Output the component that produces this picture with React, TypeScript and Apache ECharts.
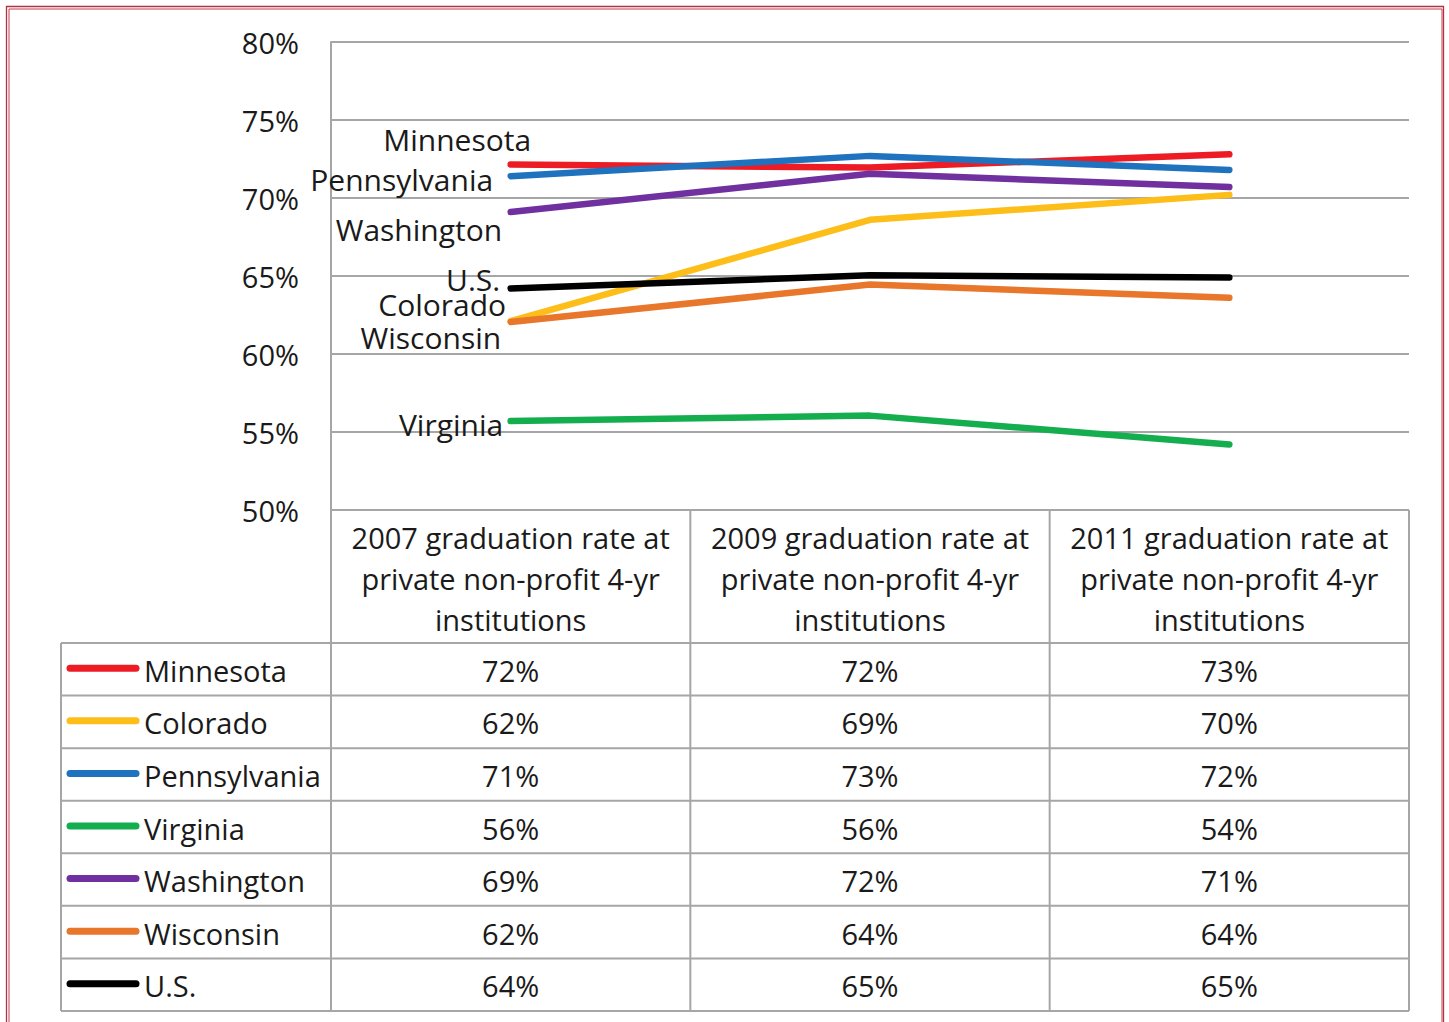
import React, { useEffect, useRef } from "react";
import * as echarts from "echarts";

// ---- data ----
const categories = [
  "2007 graduation rate at\nprivate non-profit 4-yr\ninstitutions",
  "2009 graduation rate at\nprivate non-profit 4-yr\ninstitutions",
  "2011 graduation rate at\nprivate non-profit 4-yr\ninstitutions",
];
const seriesNames = ["Minnesota", "Colorado", "Pennsylvania", "Virginia", "Washington", "Wisconsin", "U.S."];
const minnesota = [72.15, 71.95, 72.8];
const colorado = [62.1, 68.6, 70.2];
const pennsylvania = [71.4, 72.7, 71.8];
const virginia = [55.7, 56.05, 54.2];
const washington = [69.1, 71.55, 70.7];
const wisconsin = [62.05, 64.45, 63.6];
const us = [64.2, 65.05, 64.9];
const seriesValues = [minnesota, colorado, pennsylvania, virginia, washington, wisconsin, us];
const yTicks = { min: 50, max: 80, interval: 5 };

// ---- styles ----
const colors = ["#ED1C24", "#FDBE1A", "#1F72BE", "#14AE4E", "#7030A0", "#E8762B", "#000000"];
const labelOffsets: number[][] = [
  [26, -25],
  [1, -17],
  [-12, 3],
  [-2, 3],
  [-3, 17],
  [-4, 15],
  [-5, -9],
];
const FONT = "'Open Sans', sans-serif";
const FS = 29;
const LFS = 30;
const TXT = "#1a1a1a";
const GRID = "#a6a6a6";

const W = 1449;
const H = 1022;
const gridLeft = 331;
const gridRight = 1409;
const gridTop = 42;
const gridBottom = 510;
const tableTop = 643;
const tableBottom = 1011;
const tableLeft = 61;

export default function App() {
  const ref = useRef<HTMLDivElement>(null);
  useEffect(() => {
    if (!ref.current) return;
    const chart = echarts.init(ref.current, null, { renderer: "svg" });
    const colW = (gridRight - gridLeft) / categories.length;
    const rowH = (tableBottom - tableTop) / seriesNames.length;
    const graphics: any[] = [];
    // outer red double border
    graphics.push({
      type: "rect",
      shape: { x: 6.5, y: 6.5, width: 1437, height: 1040 },
      style: { fill: "none", stroke: "#B53040", lineWidth: 1.3 },
      silent: true,
    });
    graphics.push({
      type: "rect",
      shape: { x: 9, y: 9, width: 1433, height: 1040 },
      style: { fill: "none", stroke: "#C04050", lineWidth: 1 },
      silent: true,
    });
    const line = (x1: number, y1: number, x2: number, y2: number) =>
      graphics.push({
        type: "line",
        shape: { x1, y1, x2, y2 },
        style: { stroke: GRID, lineWidth: 2 },
        silent: true,
      });
    // table lines
    for (let r = 0; r <= seriesNames.length; r++) {
      const y = tableTop + r * rowH;
      line(tableLeft, y, gridRight, y);
    }
    line(gridLeft, gridBottom, gridLeft, tableBottom);
    for (let c = 1; c <= categories.length; c++) {
      const x = gridLeft + c * colW;
      line(x, gridBottom, x, tableBottom);
    }
    line(tableLeft, tableTop, tableLeft, tableBottom);
    // rows
    seriesNames.forEach((name, r) => {
      const yc = tableTop + (r + 0.5) * rowH + 1;
      graphics.push({
        type: "line",
        shape: { x1: 70, y1: yc - 2, x2: 136, y2: yc - 2 },
        style: { stroke: colors[r], lineWidth: 7, lineCap: "round" },
        silent: true,
      });
      graphics.push({
        type: "text",
        x: 144,
        y: yc,
        style: {
          text: name,
          fontSize: FS,
          fontFamily: FONT,
          fill: TXT,
          align: "left",
          verticalAlign: "middle",
        },
        silent: true,
      });
      seriesValues[r].forEach((v, c) => {
        graphics.push({
          type: "text",
          x: gridLeft + (c + 0.5) * colW,
          y: yc,
          style: {
            text: Math.round(v) + "%",
            fontSize: FS,
            fontFamily: FONT,
            fill: TXT,
            align: "center",
            verticalAlign: "middle",
          },
          silent: true,
        });
      });
    });

    chart.setOption({
      animation: false,
      backgroundColor: "#ffffff",
      grid: {
        left: gridLeft,
        right: W - gridRight,
        top: gridTop,
        bottom: H - gridBottom,
        containLabel: false,
      },
      xAxis: {
        type: "category",
        data: categories,
        boundaryGap: true,
        axisLine: { show: false },
        axisTick: { show: false },
        splitLine: { show: false },
        axisLabel: {
          show: true,
          interval: 0,
          margin: 7,
          fontSize: FS,
          lineHeight: 41,
          fontFamily: FONT,
          color: TXT,
          align: "center",
        },
      },
      yAxis: {
        type: "value",
        min: yTicks.min,
        max: yTicks.max,
        interval: yTicks.interval,
        axisLine: { show: true, lineStyle: { color: GRID, width: 2 } },
        axisTick: { show: false },
        splitLine: { show: true, lineStyle: { color: GRID, width: 2 } },
        axisLabel: {
          formatter: "{value}%",
          fontSize: FS,
          fontFamily: FONT,
          color: TXT,
          margin: 32,
        },
      },
      graphic: graphics,
      series: seriesNames.map((name, i) => ({
        name,
        type: "line",
        symbol: "circle",
        symbolSize: 1,
        showSymbol: true,
        itemStyle: { color: colors[i] },
        lineStyle: { color: colors[i], width: 6.5, cap: "round", join: "round" },
        z: 2 + i,
        data: seriesValues[i].map((v, j) =>
          j === 0
            ? {
                value: v,
                label: {
                  show: true,
                  position: "left",
                  distance: 5,
                  offset: labelOffsets[i],
                  formatter: name,
                  fontSize: LFS,
                  lineHeight: 30,
                  fontFamily: FONT,
                  color: TXT,
                },
              }
            : v
        ),
      })),
    });
    return () => chart.dispose();
  }, []);
  return (
    <div
      ref={ref}
      style={{ position: "absolute", left: 0, top: 0, width: W, height: H }}
    />
  );
}
